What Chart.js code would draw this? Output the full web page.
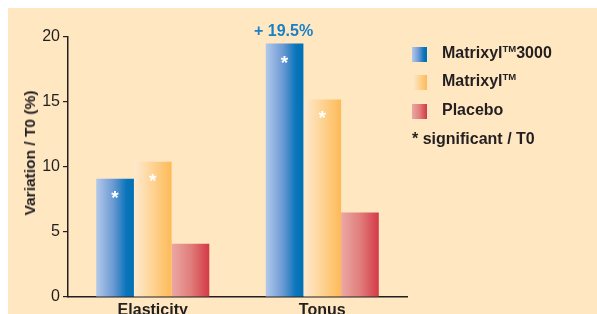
<!DOCTYPE html>
<html>
<head>
<meta charset="utf-8">
<script src="https://cdn.jsdelivr.net/npm/chart.js@4"></script>
<style>
  body { margin: 0; background: #fff; font-family: "Liberation Sans", Arial, sans-serif; color: #231f20; }
  #wrap { position: relative; width: 597px; height: 314px; overflow: hidden; }
  #panel { position: absolute; left: 8px; top: 8px; right: 0; bottom: 0; background: #fee7c1; }
  #chartBox { position: absolute; left: 0; top: 0; width: 597px; height: 314px; }
  #ytitle { position: absolute; left: 30px; top: 153px; transform: translate(-50%, -50%) rotate(-90deg);
            white-space: nowrap; font-weight: bold; font-size: 15.5px; }
  .leg { position: absolute; left: 412px; font-weight: bold; font-size: 16px; white-space: nowrap; line-height: 16px; }
  .leg .sw { position: absolute; left: 0; top: 2px; width: 15px; height: 15px; }
  .leg .txt { position: absolute; left: 30px; top: 0; }
  .leg sup { font-size: 9.5px; position: relative; top: -1px; vertical-align: top; line-height: 9px; }
</style>
</head>
<body>
<div id="wrap">
  <div id="panel"></div>
  <div id="chartBox"><canvas id="barChart" width="597" height="314"></canvas></div>
  <div id="ytitle">Variation / T0 (%)</div>
  <div id="legend"></div>
</div>
<script>
const categories = ['Elasticity', 'Tonus'];
const seriesNames = ['Matrixyl™3000', 'Matrixyl™', 'Placebo'];
const matrixyl3000 = [9.1, 19.5];
const matrixyl = [10.4, 15.2];
const placebo = [4.1, 6.5];
// which bars carry the "*" (significant / T0)
const sig3000 = [true, true];
const sigMatrixyl = [true, true];
const sigPlacebo = [false, false];
const callout = { series: 0, index: 1, text: '+ 19.5%' };
const yMin = 0, yMax = 20, yStep = 5;

const gradStops = [
  [[0, '#b3c9ea'], [0.45, '#6c9ad4'], [0.8, '#0a74bb'], [1, '#0070b5']],
  [[0, '#feead0'], [0.5, '#fed393'], [1, '#fdba57']],
  [[0, '#eba8a4'], [0.5, '#e17f7c'], [1, '#d33846']]
];

// legend (html, real text)
const legendRows = [
  { html: 'Matrixyl<sup>TM</sup>3000', top: 45 },
  { html: 'Matrixyl<sup>TM</sup>', top: 73 },
  { html: 'Placebo', top: 102 }
];
const legendEl = document.getElementById('legend');
legendRows.forEach((r, i) => {
  const css = 'linear-gradient(to right,' + gradStops[i].map(s => s[1] + ' ' + (s[0] * 100) + '%').join(',') + ')';
  legendEl.insertAdjacentHTML('beforeend',
    '<div class="leg" style="top:' + r.top + 'px"><div class="sw" style="background:' + css + '"></div><span class="txt">' + r.html + '</span></div>');
});
legendEl.insertAdjacentHTML('beforeend', '<div class="leg" style="top:131px">* significant / T0</div>');

const barGradients = {
  id: 'barGradients',
  beforeDatasetsDraw(chart) {
    const c = chart.ctx;
    chart.data.datasets.forEach((ds, di) => {
      chart.getDatasetMeta(di).data.forEach(el => {
        const g = c.createLinearGradient(el.x - el.width / 2, 0, el.x + el.width / 2, 0);
        gradStops[di].forEach(s => g.addColorStop(s[0], s[1]));
        el.options = Object.assign({}, el.options, { backgroundColor: g });
      });
    });
  }
};

const sigFlags = [sig3000, sigMatrixyl, sigPlacebo];
const barMarks = {
  id: 'barMarks',
  afterDatasetsDraw(chart) {
    const c = chart.ctx;
    c.save();
    c.textAlign = 'center';
    c.fillStyle = '#ffffff';
    c.font = 'bold 19px "Liberation Sans", Arial, sans-serif';
    c.textBaseline = 'alphabetic';
    sigFlags.forEach((flags, di) => {
      chart.getDatasetMeta(di).data.forEach((el, i) => {
        if (flags[i]) c.fillText('*', el.x, el.y + 25);
      });
    });
    const el = chart.getDatasetMeta(callout.series).data[callout.index];
    c.fillStyle = '#1a80c6';
    c.font = 'bold 16px "Liberation Sans", Arial, sans-serif';
    c.textBaseline = 'middle';
    c.fillText(callout.text, el.x - 1, el.y - 12);
    c.restore();
  }
};

const ctx = document.getElementById('barChart').getContext('2d');
const myChart = new Chart(ctx, {
  type: 'bar',
  data: {
    labels: categories,
    datasets: [
      { label: seriesNames[0], data: matrixyl3000, backgroundColor: '#0070b5' },
      { label: seriesNames[1], data: matrixyl, backgroundColor: '#fdba57' },
      { label: seriesNames[2], data: placebo, backgroundColor: '#d33846' }
    ]
  },
  options: {
    responsive: false,
    animation: false,
    layout: { padding: { top: 37, right: 190, left: 0, bottom: 0 } },
    datasets: { bar: { categoryPercentage: 0.667, barPercentage: 1.0, borderWidth: 0 } },
    plugins: { legend: { display: false }, tooltip: { enabled: false } },
    scales: {
      x: {
        grid: { display: false, drawTicks: false },
        border: { color: '#231f20', width: 1.5 },
        ticks: { color: '#231f20', padding: 4, font: { family: '"Liberation Sans", Arial, sans-serif', size: 16, weight: 'bold' } },
        afterFit(scale) { scale.height = 17; }
      },
      y: {
        min: yMin, max: yMax,
        grid: { drawOnChartArea: false, drawTicks: true, tickLength: 5, color: '#231f20', lineWidth: 1.2 },
        border: { color: '#231f20', width: 1.5 },
        ticks: { stepSize: yStep, color: '#231f20', padding: 3, font: { family: '"Liberation Sans", Arial, sans-serif', size: 16 } },
        afterFit(scale) { scale.width = 68; }
      }
    }
  },
  plugins: [barGradients, barMarks]
});
</script>
</body>
</html>
